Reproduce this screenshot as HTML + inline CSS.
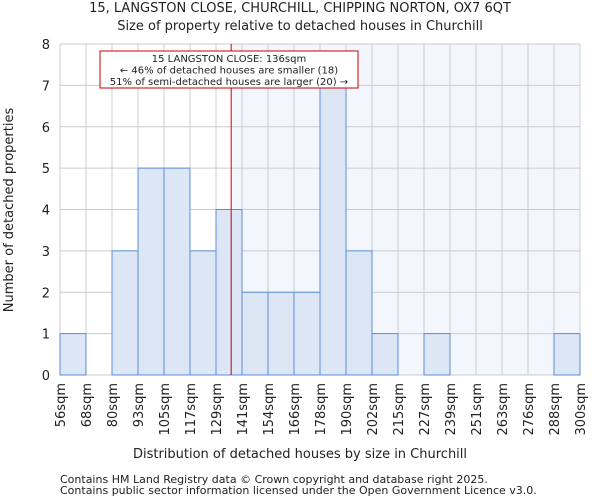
<!DOCTYPE html>
<html><head><meta charset="utf-8"><style>
body{margin:0;background:#fff;font-family:"DejaVu Sans","Liberation Sans",sans-serif;}
svg text{font-family:"DejaVu Sans","Liberation Sans",sans-serif;fill:#222;}
</style></head><body>
<svg id="chart" width="600" height="500">
<text x="300" y="12" font-size="13" text-anchor="middle">15, LANGSTON CLOSE, CHURCHILL, CHIPPING NORTON, OX7 6QT</text>
<text x="300" y="30" font-size="13" text-anchor="middle">Size of property relative to detached houses in Churchill</text>
<g id="plot"></g>
<text x="300" y="458" font-size="13" text-anchor="middle">Distribution of detached houses by size in Churchill</text>
<text transform="translate(13,210) rotate(-90)" font-size="13" text-anchor="middle">Number of detached properties</text>
<text x="60" y="483" font-size="11">Contains HM Land Registry data © Crown copyright and database right 2025.</text>
<text x="60" y="494" font-size="11">Contains public sector information licensed under the Open Government Licence v3.0.</text>
</svg>
<script>
const categories=["56sqm","68sqm","80sqm","93sqm","105sqm","117sqm","129sqm","141sqm","154sqm","166sqm","178sqm","190sqm","202sqm","215sqm","227sqm","239sqm","251sqm","263sqm","276sqm","288sqm","300sqm"];
const counts=[1,0,3,5,5,3,4,2,2,2,7,3,1,0,1,0,0,0,0,1];
const yTicks=[0,1,2,3,4,5,6,7,8];
const markerValue=136;
const markerBin=6; const markerLo=129, markerHi=141;
const NS="http://www.w3.org/2000/svg";
const L=60,R=580,T=44,B=375,yMax=8;
const bw=(R-L)/counts.length;
const xs=i=>L+i*bw;
const ys=v=>B-(B-T)*v/yMax;
const g=document.getElementById('plot');
function mk(t,a){const e=document.createElementNS(NS,t);for(const k in a)e.setAttribute(k,a[k]);g.appendChild(e);return e;}
const mx=xs(markerBin)+bw*(markerValue-markerLo)/(markerHi-markerLo);
let e=mk('rect',{x:mx,y:T,width:R-mx,height:B-T,fill:'#f3f6fd'});


for(let i=0;i<=counts.length;i++){e=mk('line',{x1:xs(i),x2:xs(i),y1:T,y2:B,stroke:'#cccccc','stroke-width':1});

}
yTicks.forEach(v=>{e=mk('line',{x1:L,x2:R,y1:ys(v),y2:ys(v),stroke:'#cccccc','stroke-width':1});


const t=mk('text',{x:L-10,y:ys(v)+5,'font-size':13,'text-anchor':'end'});t.textContent=v;

});
counts.forEach((c,i)=>{if(c<=0)return;e=mk('rect',{x:xs(i),y:ys(c),width:bw,height:B-ys(c),fill:'#dce6f4',stroke:'#5b8fd6','stroke-width':1});

});
categories.forEach((c,i)=>{const t=mk('text',{transform:`translate(${xs(i)+5},${B+8}) rotate(-90)`,'font-size':13,'text-anchor':'end'});t.textContent=c;

});
e=mk('line',{x1:mx,x2:mx,y1:T,y2:B,stroke:'#cc0000','stroke-width':1});


e=mk('rect',{x:100,y:51,width:258,height:37,fill:'#fff',stroke:'#cc0000','stroke-width':1});


["15 LANGSTON CLOSE: 136sqm","← 46% of detached houses are smaller (18)","51% of semi-detached houses are larger (20) →"].forEach((s,i)=>{const t=mk('text',{x:229,y:62+i*11.5,'font-size':10,'text-anchor':'middle'});t.textContent=s;

});
</script>
</body></html>
